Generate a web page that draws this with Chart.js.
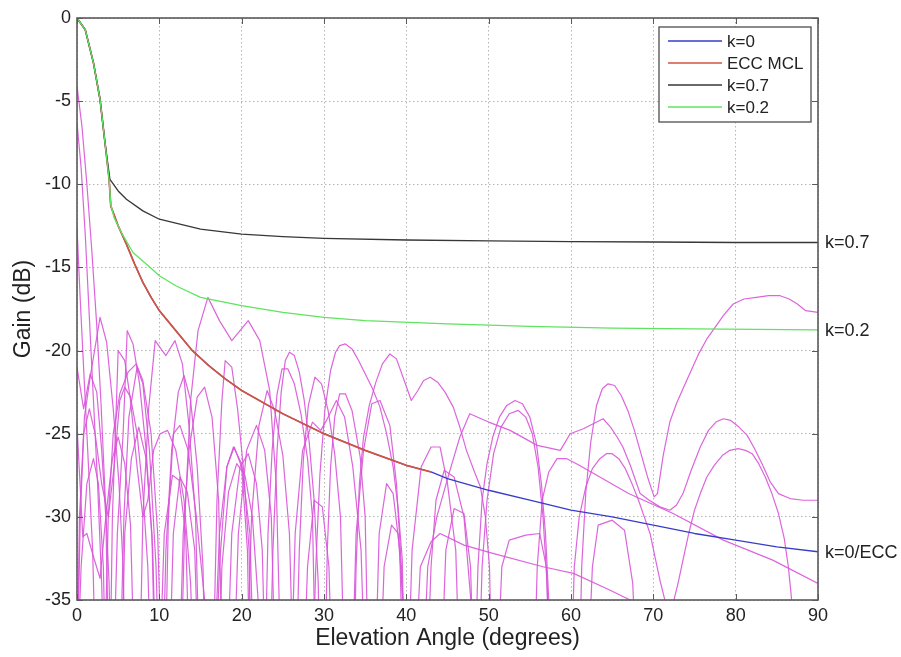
<!DOCTYPE html>
<html>
<head>
<meta charset="utf-8">
<title>Gain vs Elevation Angle</title>
<script src="https://cdn.jsdelivr.net/npm/chart.js@4.4.1/dist/chart.umd.min.js"></script>
<style>
  html, body { margin: 0; padding: 0; background: #fff; }
  #wrap { position: relative; width: 901px; height: 657px; }
</style>
</head>
<body>
<div id="wrap"><canvas id="myChart"></canvas></div>
<script>
// axis ticks
const angleTicks = [0, 10, 20, 30, 40, 50, 60, 70, 80, 90];
const gainTicks = [0, -5, -10, -15, -20, -25, -30, -35];

// k=0 (blue), same path as ECC MCL until ~43 deg
const k0Angle = [0, 1, 2, 2.8, 3.4, 3.9, 4.1, 5, 6, 7, 8, 9, 10, 12, 14, 16, 18, 20, 25, 30, 35, 40, 43, 45, 50, 55, 60, 65, 70, 75, 80, 85, 90];
const k0Gain = [0, -0.7, -2.7, -4.9, -7.5, -9.7, -11.3, -12.5, -13.6, -14.8, -15.9, -16.8, -17.6, -18.8, -20.0, -20.9, -21.7, -22.4, -23.8, -25.0, -26.0, -26.9, -27.3, -27.7, -28.4, -29.0, -29.6, -30.0, -30.5, -31.0, -31.4, -31.8, -32.1];

// ECC MCL (red)
const eccAngle = [0, 1, 2, 2.8, 3.4, 3.9, 4.1, 5, 6, 7, 8, 9, 10, 12, 14, 16, 18, 20, 25, 30, 35, 40, 43];
const eccGain = [0, -0.7, -2.7, -4.9, -7.5, -9.7, -11.3, -12.5, -13.6, -14.8, -15.9, -16.8, -17.6, -18.8, -20.0, -20.9, -21.7, -22.4, -23.8, -25.0, -26.0, -26.9, -27.3];

// k=0.7 (dark grey)
const k07Angle = [0, 1, 2, 2.8, 3.4, 4, 5, 6, 8, 10, 15, 20, 25, 30, 40, 50, 60, 70, 80, 90];
const k07Gain = [0, -0.7, -2.7, -4.9, -7.5, -9.7, -10.4, -10.9, -11.6, -12.1, -12.7, -13.0, -13.15, -13.25, -13.35, -13.4, -13.45, -13.47, -13.5, -13.5];

// k=0.2 (green)
const k02Angle = [0, 1, 2, 2.8, 3.4, 3.9, 4.1, 4.5, 5.5, 6.8, 8.9, 10, 12, 15, 20, 25, 30, 35, 45, 55, 65, 75, 90];
const k02Gain = [0, -0.7, -2.7, -4.9, -7.5, -9.7, -11.2, -12.0, -13.0, -14.1, -15.0, -15.5, -16.1, -16.8, -17.3, -17.7, -18.0, -18.2, -18.4, -18.55, -18.65, -18.7, -18.75];

// measured antenna cuts (magenta), [angle, gain]; values below -35 run off the axis
const cut1 = [[0,-4.1],[0.6,-6.5],[1.2,-10],[1.8,-14],[2.4,-18.5],[2.9,-23],[3.4,-28.5],[3.9,-34],[4.2,-40],
  [5.2,-40],[5.7,-30],[6.3,-24],[7.3,-21],[8,-22],[8.8,-26],[9.6,-33],[10,-40],
  [12.6,-40],[13.1,-30],[13.8,-23],[14.7,-18.8],[15.9,-16.8],[17.3,-18.2],[18.8,-19.4],[20.8,-18.2],[22.2,-19.4],[23.4,-22.4],[24.2,-28],[24.8,-40],
  [28.6,-40],[29,-33],[29.5,-27.5],[30.1,-23.6],[30.8,-21.2],[31.4,-20.1],[31.9,-19.7],[32.6,-19.6],[33.4,-19.9],[34.2,-20.6],[35,-21.4],[35.9,-22.3],[36.8,-23.4],[37.6,-25],[38.4,-27],[39,-29.5],[39.5,-32.5],[39.8,-40],
  [48.3,-40],[48.7,-33],[49.2,-29],[49.8,-26.8],[50.5,-25.2],[51.3,-24],[52.2,-23.3],[53.2,-23.0],[54.1,-23.2],[55,-24],[55.8,-25.6],[56.4,-28],[56.9,-31],[57.3,-35],[57.5,-40],
  [61,-40],[61.3,-33],[61.8,-28.5],[62.4,-25.5],[63.1,-23.3],[63.8,-22.3],[64.5,-22.0],[65.3,-22.1],[66.1,-22.7],[66.9,-23.6],[67.7,-24.8],[68.5,-26.2],[69.3,-27.6],[70.1,-28.8],[70.5,-28.6],
  [71.2,-26.3],[72,-24.3],[72.8,-23.2],[73.6,-22.3],[74.5,-21.3],[75.5,-20.2],[76.5,-19.3],[77.5,-18.6],[78.5,-17.9],[79.7,-17.2],[81,-16.9],[82.5,-16.8],[84,-16.7],[85.4,-16.7],[86.5,-16.9],[87.5,-17.2],[88.5,-17.6],[90,-17.7]];
const cut2 = [[0,-6.3],[0.5,-9],[1,-13],[1.5,-18],[2,-23],[2.5,-28],[3,-34],[3.3,-40],
  [4,-40],[4.3,-30],[4.8,-23],[5,-20.0],[5.8,-20.6],[6.5,-23],[7.3,-27],[8,-30],[8.6,-29],[9.3,-26],[10.1,-25.0],[11,-24.8],[12,-26],[13,-29],[13.8,-34],[14.2,-40],
  [16.8,-40],[17.3,-33],[18.2,-27],[19.1,-25.8],[20,-27],[20.7,-32],[21,-40],
  [23.4,-40],[23.8,-32],[24.3,-26],[24.8,-22.5],[25.3,-20.6],[25.8,-20.1],[26.4,-20.3],[27,-21.3],[27.6,-23],[28.2,-25.5],[28.8,-29],[29.3,-34],[29.5,-40],
  [33.6,-40],[33.9,-33],[34.3,-28],[34.8,-25.2],[35.5,-23.3],[36.3,-21.9],[37.1,-20.8],[38,-20.2],[38.8,-20.5],[39.6,-21.6],[40.6,-23.0],[41.4,-22.4],[42.1,-21.8],[42.9,-21.6],[43.8,-21.9],[44.7,-22.5],[45.7,-23.4],[46.5,-24.6],[47.3,-26],[48.2,-27.2],[49,-28.2],[49.6,-30],[50.1,-33],[50.4,-40],
  [55.5,-40],[55.9,-33],[56.5,-29],[57.3,-27.3],[58.3,-26.5],[59.5,-26.5],[61,-26.9],[63.5,-27.6],[67,-28.6],[72.4,-29.8],[78.5,-31.4],[84.5,-32.6],[90,-34.0]];
const cut3 = [[0,-12.6],[0.4,-17],[0.9,-22],[1.4,-27],[1.9,-32],[2.3,-40],
  [3.3,-40],[3.8,-30],[4.4,-25],[5.2,-22.6],[6.2,-21.3],[7.2,-20.8],[8,-21.8],[9,-25],[9.8,-31],[10.3,-40],
  [12.4,-40],[12.9,-31],[13.6,-26],[14.6,-22.8],[15.5,-22.2],[16.4,-24],[17.2,-29],[17.7,-40],
  [20.6,-40],[21.2,-30],[22.1,-24.5],[23.1,-22.4],[24,-23.6],[25,-26.3],[25.8,-31],[26.3,-40],
  [30.1,-40],[30.4,-32],[30.8,-27],[31.3,-24],[31.9,-22.6],[32.6,-22.6],[33.4,-23.6],[34.4,-26.4],[35,-30],[35.4,-40],
  [42,-40],[42.6,-33],[43.7,-30],[45.3,-27.2],[46.5,-25.2],[47.7,-23.8],[50,-24.3],[52.6,-24.8],[55.9,-25.7],[58.7,-26.0],[59.9,-25.0],[61.5,-24.7],[63.9,-24.1],
  [64.8,-24.6],[65.6,-25.2],[66.3,-25.8],[67.2,-26.9],[68.4,-28.6],[69.5,-29.0],[70.8,-29.4],[72,-29.6],[72.8,-29.3],[73.6,-28.6],[74.6,-27.2],[75.7,-25.8],[76.7,-24.8],[77.6,-24.3],[78.5,-24.1],
  [79.4,-24.2],[80.4,-24.6],[81.4,-25.1],[82.3,-25.9],[83.2,-26.8],[84.2,-27.9],[85.2,-28.6],[86.6,-28.9],[88.2,-29.0],[90,-29.0]];
const cut4 = [[0,-21],[0.8,-23.5],[1.6,-21.4],[2.4,-22.5],[3,-26],[3.5,-30],[3.9,-40],
  [5.4,-40],[5.8,-31],[6.6,-26.5],[7.5,-24.6],[8.4,-26.5],[9.1,-31],[9.5,-40],
  [11.2,-40],[11.7,-31],[12.5,-27.6],[13.4,-28.5],[14.3,-32],[14.8,-40],
  [18.2,-40],[18.8,-31],[19.8,-27],[20.8,-26.2],[21.8,-28],[22.5,-32],[22.9,-40],
  [26.6,-40],[27,-32],[27.5,-26.5],[28.1,-23.3],[28.9,-21.6],[29.7,-22],[30.5,-23.6],[31.3,-26.2],[32,-30],[32.5,-40],
  [36.2,-40],[36.7,-31],[37.6,-28],[38.4,-28.6],[39.2,-32],[39.6,-40],
  [44.2,-40],[44.8,-32],[45.8,-29.5],[47,-29.8],[47.8,-33],[48.2,-40],
  [60,-40],[60.4,-33],[61,-30],[61.8,-28.2],[62.6,-27.1],[63.5,-26.5],[64.3,-26.2],[65,-26.2],[65.8,-26.5],[66.6,-27.1],[67.4,-28],[68.2,-29],[68.9,-30],[69.6,-31],[70.2,-32.4],[70.8,-33.8],[71.4,-35],[71.8,-35.6],
  [72.4,-35.2],[73,-34],[73.6,-32.6],[74.3,-31],[75,-29.6],[75.7,-28.6],[76.5,-27.6],[77.4,-26.9],[78.4,-26.3],[79.3,-26.0],[80.3,-25.9],[81.2,-26.0],[82,-26.2],[82.8,-26.8],[83.6,-27.6],[84.4,-28.6],[85.2,-29.8],[85.9,-31.3],[86.4,-33],[86.8,-35],[87.2,-40]];
const cut5 = [[0,-24.5],[0.7,-31.2],[1.2,-31.0],[2,-32.4],[2.8,-33.7],[3.5,-30],[4.3,-26.5],[5,-25.2],[5.8,-26.8],[6.5,-30.5],[7,-40],
  [10,-40],[10.6,-31],[11.6,-27.5],[12.4,-27.8],[13.2,-31],[13.7,-40],
  [16.6,-40],[17.3,-31],[18.2,-27],[19,-25.8],[20,-26.8],[21,-31],[21.5,-40],
  [22.8,-40],[23.2,-31],[23.7,-26],[24.3,-22.6],[24.9,-21.1],[25.6,-21.1],[26.4,-22],[27.2,-23.8],[28,-26.5],[28.6,-30],[29,-40],
  [33.4,-40],[33.9,-31],[34.8,-26],[35.8,-23.2],[36.8,-23.0],[38,-24.5],[38.8,-28],[39.4,-33],[39.8,-40],
  [41,-40],[41.7,-33],[43,-31.5],[44.1,-31],[47,-31.7],[50.5,-32.2],[56.6,-33.0],[60.3,-33.4],[64.7,-34.4],[68,-35.2],[71.2,-35.8]];
const cut6 = [[0,-40],[0.4,-30],[0.9,-24],[1.6,-21.6],[2.8,-18.0],[3.6,-19.5],[4.4,-23.5],[5.1,-28],[5.6,-33],[5.9,-40],
  [7.6,-40],[8,-30],[8.7,-23.5],[9.5,-19.4],[10.2,-19.9],[10.8,-20.3],[11.9,-19.4],[12.8,-20.8],[13.6,-24.5],[14.4,-30],[14.9,-40],
  [16.5,-40],[17,-29],[17.6,-23],[18,-20.6],[18.8,-21],[19.5,-23.5],[20.2,-27],[20.9,-32],[21.2,-40],
  [26,-40],[26.5,-31],[27.4,-26],[28.6,-24.3],[29.6,-24.8],[30.3,-24.2],[31.5,-23.0],[32.5,-24],[33.5,-27],[34.5,-32],[35,-40],
  [40.2,-40],[40.7,-32],[41.8,-27],[43,-25.8],[44.1,-25.8],[45,-28],[46,-32],[46.5,-40],
  [51,-40],[51.6,-33],[52.5,-31.4],[54.5,-31.1],[56.2,-31.0],[57,-33],[57.5,-40],
  [62,-40],[62.6,-33],[63.3,-30.5],[65,-30.2],[66.5,-30.8],[67.5,-34],[68,-40]];
const cut7 = [[0,-40],[0.5,-33],[1.2,-28],[2,-26.5],[2.6,-28],[3.2,-33],[3.5,-40],
  [4.4,-40],[4.9,-31],[5.6,-25],[6.1,-18.8],[6.8,-19.6],[7.6,-22],[8.4,-26],[9.2,-32],[9.6,-40],
  [10.7,-40],[11.1,-30],[11.7,-25],[12.5,-24.5],[13.5,-26],[14.5,-30],[15.5,-35],[16,-40],
  [19,-40],[19.6,-31],[20.6,-26],[21.8,-24.5],[22.8,-26],[23.6,-30],[24.1,-40],
  [27.5,-40],[28,-33],[28.8,-29],[29.8,-29.4],[30.6,-33],[31,-40],
  [36.8,-40],[37.3,-33],[38.2,-30.5],[39,-31],[39.6,-35],[40,-40],
  [42.5,-40],[43,-33],[43.6,-29],[44.6,-27.2],[45.8,-27.6],[47,-30],[48,-36],[48.3,-40],
  [48.8,-40],[49.2,-33],[49.8,-29],[50.6,-26.2],[51.5,-24.6],[52.5,-23.8],[53.6,-23.6],[54.5,-24],[55.3,-25],[56,-27],[56.6,-30],[57.1,-34],[57.4,-40]];
const cut8 = [[0,-40],[0.3,-30],[0.8,-25],[1.5,-23.5],[2.2,-25],[3,-28],[3.8,-30],[4.5,-27],[5.2,-23],[5.8,-22.2],[6.5,-22.8],[7.3,-25],[8,-28.5],[8.6,-33],[9,-40],
  [10.4,-40],[10.8,-32],[11.5,-26],[12.3,-22.5],[13,-21.5],[13.8,-23],[14.6,-27],[15.3,-33],[15.6,-40],
  [17.2,-40],[17.6,-33],[18.4,-28.5],[19.4,-26.8],[20.4,-27.5],[21.3,-30],[22,-35],[22.3,-40]];
const cuts = [cut1, cut2, cut3, cut4, cut5, cut6, cut7, cut8];

// text placed at the right end of the curves
const endLabels = ['k=0.7', 'k=0.2', 'k=0/ECC'];

const BLUE = 'rgb(55,60,200)';
const RED = 'rgb(210,85,65)';
const GREY = 'rgb(55,55,55)';
const GREEN = 'rgb(95,228,95)';
const MAGENTA = 'rgba(216,84,216,0.9)';
const FONT = '"Liberation Sans", Arial, sans-serif';

function toPoints(xs, ys) {
    return xs.map(function (x, i) { return { x: x, y: ys[i] }; });
}

const mainSets = [
    { label: 'k=0', data: toPoints(k0Angle, k0Gain), borderColor: BLUE, borderWidth: 1.3, order: 3 },
    { label: 'ECC MCL', data: toPoints(eccAngle, eccGain), borderColor: RED, borderWidth: 1.7, order: 2 },
    { label: 'k=0.7', data: toPoints(k07Angle, k07Gain), borderColor: GREY, borderWidth: 1.3, order: 1 },
    { label: 'k=0.2', data: toPoints(k02Angle, k02Gain), borderColor: GREEN, borderWidth: 1.3, order: 0 },
];
mainSets.forEach(function (d) { d.inLegend = true; });

const cutSets = cuts.map(function (c, i) {
    return {
        label: 'cut ' + (i + 1),
        data: c.map(function (p) { return { x: p[0], y: p[1] }; }),
        borderColor: MAGENTA,
        borderWidth: 1.2,
        order: 5,
    };
});

// box, inward ticks, legend and curve labels, the way the matlab figure has them
const decorations = {
    id: 'decorations',
    afterDatasetsDraw(chart) {
        const ctx = chart.ctx;
        const area = chart.chartArea;
        const xs = chart.scales.x;
        const ys = chart.scales.y;
        ctx.save();

        ctx.strokeStyle = '#5a5a5a';
        ctx.lineWidth = 1;
        ctx.beginPath();
        angleTicks.forEach(function (v) {
            const px = Math.round(xs.getPixelForValue(v)) + 0.5;
            ctx.moveTo(px, area.top); ctx.lineTo(px, area.top + 6);
            ctx.moveTo(px, area.bottom); ctx.lineTo(px, area.bottom - 6);
        });
        gainTicks.forEach(function (v) {
            const py = Math.round(ys.getPixelForValue(v)) + 0.5;
            ctx.moveTo(area.left, py); ctx.lineTo(area.left + 6, py);
            ctx.moveTo(area.right, py); ctx.lineTo(area.right - 6, py);
        });
        ctx.stroke();

        ctx.lineWidth = 1.6;
        ctx.strokeRect(area.left, area.top, area.right - area.left, area.bottom - area.top);

        // legend
        const items = chart.data.datasets.filter(function (d) { return d.inLegend; });
        const boxW = 152, rowH = 22;
        const boxH = items.length * rowH + 7;
        const bx = area.right - 7 - boxW;
        const by = area.top + 9;
        ctx.fillStyle = '#fff';
        ctx.fillRect(bx, by, boxW, boxH);
        ctx.lineWidth = 1.4;
        ctx.strokeStyle = '#5a5a5a';
        ctx.strokeRect(bx, by, boxW, boxH);
        ctx.font = '17px ' + FONT;
        ctx.textBaseline = 'middle';
        ctx.textAlign = 'left';
        items.forEach(function (d, i) {
            const cy = by + 14 + i * rowH;
            ctx.strokeStyle = d.borderColor;
            ctx.lineWidth = 1.3;
            ctx.beginPath();
            ctx.moveTo(bx + 9, cy);
            ctx.lineTo(bx + 63, cy);
            ctx.stroke();
            ctx.fillStyle = '#222';
            ctx.fillText(d.label, bx + 68, cy + 1);
        });

        // labels at the end of k=0.7, k=0.2 and k=0
        const ends = [k07Gain, k02Gain, k0Gain];
        ctx.font = '18px ' + FONT;
        ctx.fillStyle = '#222';
        ends.forEach(function (g, i) {
            ctx.fillText(endLabels[i], area.right + 7, ys.getPixelForValue(g[g.length - 1]) + 1);
        });
        ctx.restore();
    }
};

const ctx = document.getElementById('myChart').getContext('2d');
const myChart = new Chart(ctx, {
    type: 'line',
    data: { datasets: mainSets.concat(cutSets) },
    options: {
        responsive: true,
        maintainAspectRatio: false,
        animation: false,
        layout: { padding: { top: 18, right: 83, left: 0, bottom: 0 } },
        elements: {
            point: { radius: 0 },
            line: { tension: 0, fill: false, borderJoinStyle: 'round' },
        },
        plugins: {
            legend: { display: false },
            tooltip: { enabled: false },
        },
        scales: {
            x: {
                type: 'linear',
                min: 0,
                max: 90,
                afterBuildTicks: function (s) { s.ticks = angleTicks.map(function (v) { return { value: v }; }); },
                afterFit: function (s) { s.height = 57; },
                ticks: { font: { size: 18, family: FONT }, color: '#222', padding: 5, maxRotation: 0 },
                grid: { color: '#b4b4b4', lineWidth: 1, drawTicks: false },
                border: { display: false, dash: [1.5, 2.5] },
                title: {
                    display: true,
                    text: 'Elevation Angle (degrees)',
                    font: { size: 23, family: FONT },
                    color: '#222',
                    padding: { top: 0, bottom: 5 },
                },
            },
            y: {
                type: 'linear',
                min: -35,
                max: 0,
                afterBuildTicks: function (s) { s.ticks = gainTicks.map(function (v) { return { value: v }; }); },
                afterFit: function (s) { s.width = 77; },
                ticks: { font: { size: 18, family: FONT }, color: '#222', padding: 6 },
                grid: { color: '#b4b4b4', lineWidth: 1, drawTicks: false },
                border: { display: false, dash: [1.5, 2.5] },
                title: {
                    display: true,
                    text: 'Gain (dB)',
                    font: { size: 23, family: FONT },
                    color: '#222',
                    padding: { top: 10, bottom: 0 },
                },
            },
        },
    },
    plugins: [decorations],
});
</script>
</body>
</html>
